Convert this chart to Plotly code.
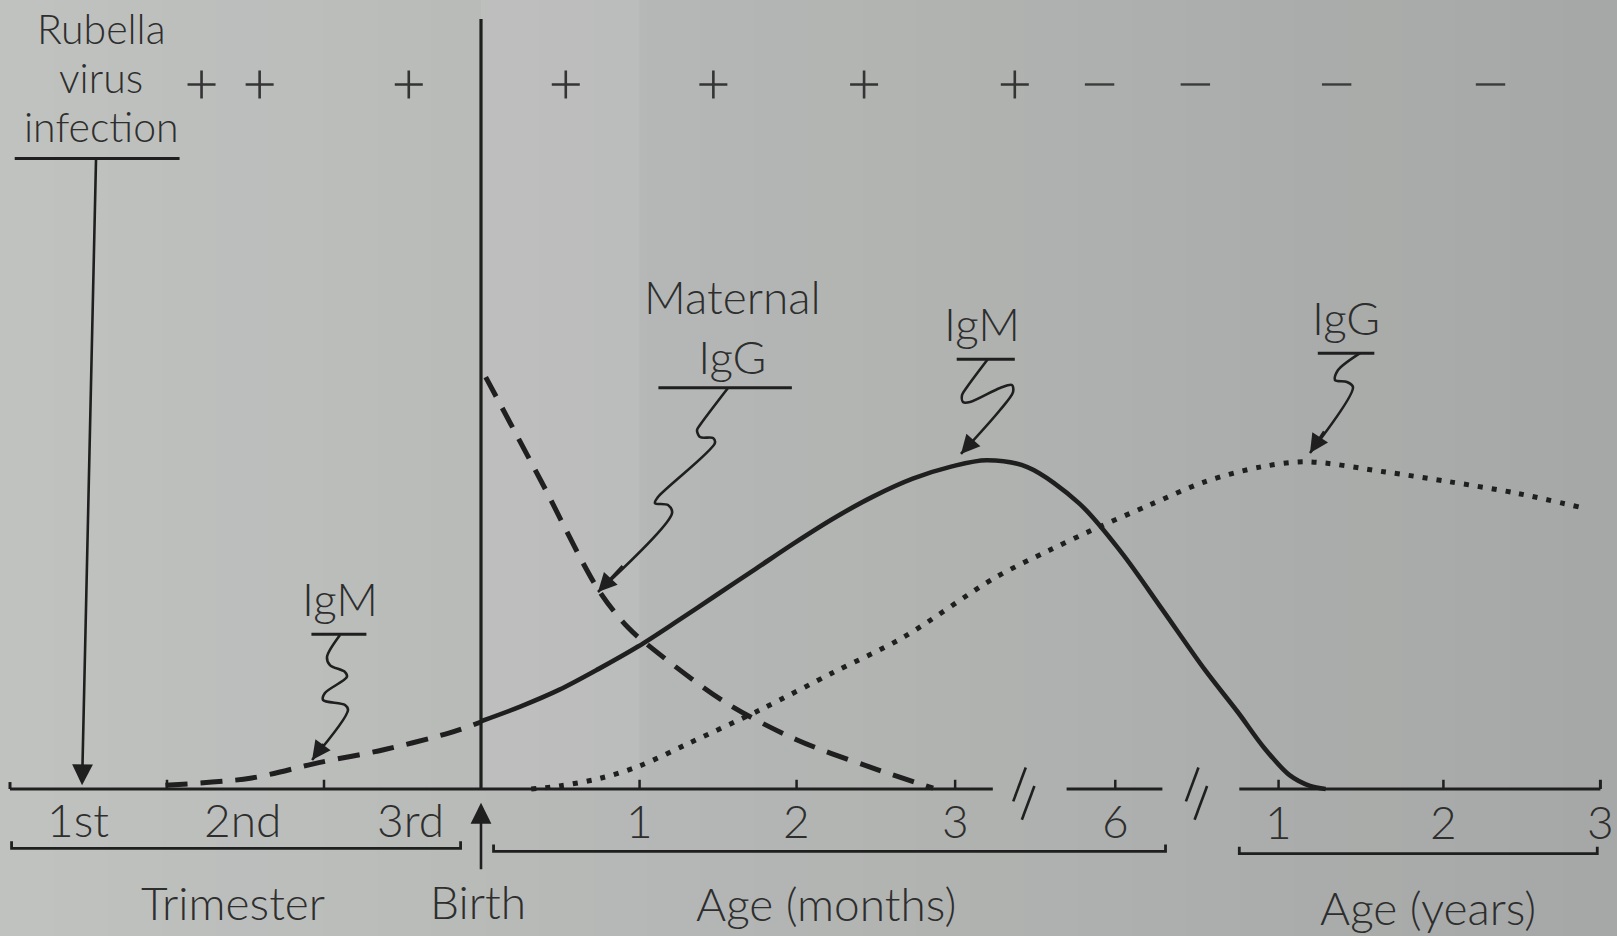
import plotly.graph_objects as go

# ---------------- data ----------------
# x: timeline position (0-3 = trimesters of pregnancy, 3 = birth, then 1 unit = 1 month,
#    followed by the compressed "6 months" and "years" segments)
# y: relative antibody level (0 = baseline)

igm_fetal_x = [0.99, 1.53, 1.96, 2.38, 2.80, 3.00]
igm_fetal_y = [0.5, 1.4, 3.4, 5.1, 7.3, 8.7]

igm_infant_x = [3.00, 3.25, 3.50, 3.75, 4.00, 4.25, 4.50, 4.75, 5.00, 5.25, 5.50, 5.75,
                6.00, 6.22, 6.48, 6.81, 7.08, 7.34, 7.61, 7.82, 7.99, 8.15, 8.28, 8.38]
igm_infant_y = [8.8, 10.7, 12.9, 15.6, 18.5, 21.8, 25.2, 28.6, 32.0, 35.2, 38.0, 40.3,
                41.9, 42.7, 41.8, 37.1, 30.7, 23.3, 15.5, 10.0, 5.3, 1.8, 0.4, 0.0]

maternal_igg_x = [3.03, 3.38, 3.75, 3.94, 4.10, 4.56, 5.01, 5.47, 5.88]
maternal_igg_y = [53.5, 40.1, 25.8, 20.9, 18.1, 11.2, 6.4, 2.9, 0.1]

infant_igg_x = [3.32, 3.50, 3.76, 4.01, 4.33, 4.78, 5.24, 5.69, 6.27, 6.62, 6.89, 7.26,
                7.61, 7.96, 8.26, 8.75, 9.17, 9.60, 10.00]
infant_igg_y = [0.0, 0.4, 1.4, 3.0, 6.0, 10.3, 15.1, 19.7, 27.4, 31.0, 33.6, 36.9,
                39.9, 41.8, 42.5, 41.2, 39.9, 38.4, 36.6]

# virus isolation row (+ / -)
virus_x = [1.22, 1.59, 2.54, 3.54, 4.48, 5.44, 6.40, 6.94, 7.55, 8.45, 9.43]
virus_sign = ["+", "+", "+", "+", "+", "+", "+", "-", "-", "-", "-"]
virus_level = 91.5

# axis ticks / labels
trimester_labels = ["1st", "2nd", "3rd"]
trimester_label_x = [0.43, 1.48, 2.55]
trimester_tick_x = [1.0, 2.0]
month_labels = ["1", "2", "3", "6"]
month_x = [4.01, 5.01, 6.02, 7.04]
year_labels = ["1", "2", "3"]
year_x = [8.08, 9.13, 10.13]
axis_segments = [(0.0, 6.26), (6.73, 7.34), (7.83, 10.13)]
break_x = [6.45, 7.55]
birth_x = 3.0

group_labels = ["Trimester", "Birth", "Age (months)", "Age (years)"]
group_label_x = [1.42, 2.98, 5.20, 9.03]
group_label_y = [-14.7, -14.6, -14.9, -15.4]
brackets = [(0.01, 2.87, -7.7), (3.08, 7.36, -8.1), (7.83, 10.11, -8.4)]

rubella_lines = ["Rubella", "virus", "infection"]
rubella_line_y = [98.83, 92.47, 86.1]
rubella_x = 0.58

# callout labels: text lines, squiggle leader (x, y)
maternal_label = ["Maternal", "IgG"]
maternal_sq_x = [4.573, 4.395, 4.376, 4.395, 4.478, 4.490, 4.127, 4.108, 4.191, 4.217, 3.745]
maternal_sq_y = [52.08, 47.27, 46.62, 45.71, 45.58, 44.94, 37.92, 37.14, 36.88, 35.84, 25.58]

igm_label = "IgM"
igm_sq_x = [6.229, 6.096, 6.064, 6.070, 6.115, 6.306, 6.382, 6.389, 6.306, 6.057]
igm_sq_y = [55.84, 52.21, 51.17, 50.26, 50.26, 52.08, 52.47, 51.56, 49.22, 43.51]

igg_label = "IgG"
igg_sq_x = [8.599, 8.459, 8.439, 8.516, 8.554, 8.280]
igg_sq_y = [56.62, 54.42, 53.12, 52.86, 52.21, 43.64]

igm_fetal_label = "IgM"
igm_fetal_sq_x = [2.102, 2.019, 2.038, 2.134, 2.146, 2.006, 1.994, 2.134, 2.153, 1.924]
igm_fetal_sq_y = [20.0, 17.14, 16.10, 15.19, 14.55, 12.47, 11.56, 10.91, 10.26, 3.77]

# ---------------- style ----------------
INK = "#1e1f1e"
TXT = "#2d2e2d"
FONT = "Lato, 'Open Sans', sans-serif"
FS = 46
XR = [-0.0637, 10.2357]
YR = [-19.09, 102.47]

fig = go.Figure()
shapes = []
annotations = []

# paper background gradient (photo lighting)
N = 30
c0 = (192, 194, 192)
c1 = (166, 168, 167)
for i in range(N):
    t = i / (N - 1)
    c = tuple(int(round(c0[k] + (c1[k] - c0[k]) * t)) for k in range(3))
    shapes.append(dict(type="rect", xref="paper", yref="paper", x0=i / N, x1=(i + 1) / N + 0.002,
                       y0=0, y1=1, fillcolor="rgb(%d,%d,%d)" % c, line=dict(width=0), layer="below"))

# lighter band between birth and 1 month
shapes.append(dict(type="rect", xref="x", yref="y", x0=birth_x, x1=month_x[0], y0=0, y1=YR[1],
                   fillcolor="rgba(255,255,255,0.07)", line=dict(width=0), layer="below"))

def line(xs, ys, width=3, dash="solid", color=INK, shape="linear"):
    fig.add_trace(go.Scatter(x=xs, y=ys, mode="lines", hoverinfo="skip",
                             line=dict(color=color, width=width, dash=dash, shape=shape,
                                       smoothing=0.9 if shape == "spline" else None)))

def arrow(xt, yt, xs, ys, width=2.5, size=1.5):
    annotations.append(dict(x=xt, y=yt, ax=xs, ay=ys, xref="x", yref="y", axref="x", ayref="y",
                            text="", showarrow=True, arrowhead=2, arrowsize=size,
                            arrowwidth=width, arrowcolor=INK, standoff=0, startstandoff=0))

def text(s, x, y, size=FS):
    annotations.append(dict(x=x, y=y, xref="x", yref="y", text=s, showarrow=False,
                            xanchor="center", yanchor="middle", align="center",
                            font=dict(family=FONT, size=size, color=TXT, weight=300)))

def leader(xs, ys):
    line(xs, ys, width=2.6, shape="spline")
    k = 0.35
    arrow(xs[-1], ys[-1], xs[-1] + k * (xs[-2] - xs[-1]), ys[-1] + k * (ys[-2] - ys[-1]))

# baseline segments with tick marks
for a, b in axis_segments:
    line([a, b], [0, 0], width=3)
line([axis_segments[0][0], axis_segments[0][0]], [0, 0.9], width=3)
line([axis_segments[-1][1], axis_segments[-1][1]], [0, 1.2], width=3)
for tx in trimester_tick_x + month_x + year_x[:-1]:
    line([tx, tx], [0, 1.2], width=2.5)
# break marks
for bx in break_x:
    line([bx - 0.06, bx + 0.02], [-1.6, 2.8], width=2.6)
    line([bx - 0.005, bx + 0.075], [-4.0, 0.4], width=2.6)

# birth line
line([birth_x, birth_x], [0, 100], width=3.2)

# curves
line(igm_fetal_x, igm_fetal_y, width=5, dash="22px,13px", shape="spline")
line(igm_infant_x, igm_infant_y, width=4.6, shape="spline")
line(maternal_igg_x, maternal_igg_y, width=5, dash="22px,13px", shape="spline")
line(infant_igg_x, infant_igg_y, width=5, dash="5px,9px", shape="spline")

# virus row
plus_x = [x for x, s in zip(virus_x, virus_sign) if s == "+"]
minus_x = [x for x, s in zip(virus_x, virus_sign) if s == "-"]
fig.add_trace(go.Scatter(x=plus_x, y=[virus_level] * len(plus_x), mode="markers", hoverinfo="skip",
                         marker=dict(symbol="cross-thin", size=20, color=INK,
                                     line=dict(width=2.6, color="#333433"))))
fig.add_trace(go.Scatter(x=minus_x, y=[virus_level] * len(minus_x), mode="markers", hoverinfo="skip",
                         marker=dict(symbol="line-ew", size=21, color=INK,
                                     line=dict(width=2.4, color="#3a3b3a"))))

# Rubella label + arrow
for s, y in zip(rubella_lines, rubella_line_y):
    text(s, rubella_x, y, size=41)
line([0.03, 1.08], [81.9, 81.9], width=3)
arrow(0.459, 0.5, 0.548, 81.9, width=2.6, size=1.6)

# callouts
text("<br>".join(maternal_label), 4.60, 60.1)
line([4.13, 4.98], [52.1, 52.1], width=3)
leader(maternal_sq_x, maternal_sq_y)

text(igm_label, 6.19, 60.4)
line([6.03, 6.40], [55.8, 55.8], width=3)
leader(igm_sq_x, igm_sq_y)

text(igg_label, 8.51, 61.3)
line([8.33, 8.69], [56.6, 56.6], width=3)
leader(igg_sq_x, igg_sq_y)

text(igm_fetal_label, 2.10, 24.7)
line([1.92, 2.27], [20.1, 20.1], width=3)
leader(igm_fetal_sq_x, igm_fetal_sq_y)

# tick labels
for s, x in zip(trimester_labels, trimester_label_x):
    text(s, x, -3.95)
for s, x in zip(month_labels, month_x):
    text(s, x, -4.1)
for s, x in zip(year_labels, year_x):
    text(s, x, -4.2)

# brackets
for a, b, y in brackets:
    line([a, a, b, b], [y + 0.9, y, y, y + 0.9], width=2.8)

# birth arrow
arrow(birth_x, -1.8, birth_x, -10.6, width=2.6, size=1.6)

# group labels
for s, x, y in zip(group_labels, group_label_x, group_label_y):
    text(s, x, y)

fig.update_layout(
    width=1617, height=936, autosize=False,
    margin=dict(l=0, r=0, t=0, b=0),
    paper_bgcolor="rgb(180,182,181)", plot_bgcolor="rgba(0,0,0,0)",
    showlegend=False,
    xaxis=dict(range=XR, visible=False, fixedrange=True),
    yaxis=dict(range=YR, visible=False, fixedrange=True),
    shapes=shapes, annotations=annotations,
)

fig.write_html("out.html", config={"displayModeBar": False},
               post_script="document.body.style.margin='0';document.body.style.overflow='hidden';")
